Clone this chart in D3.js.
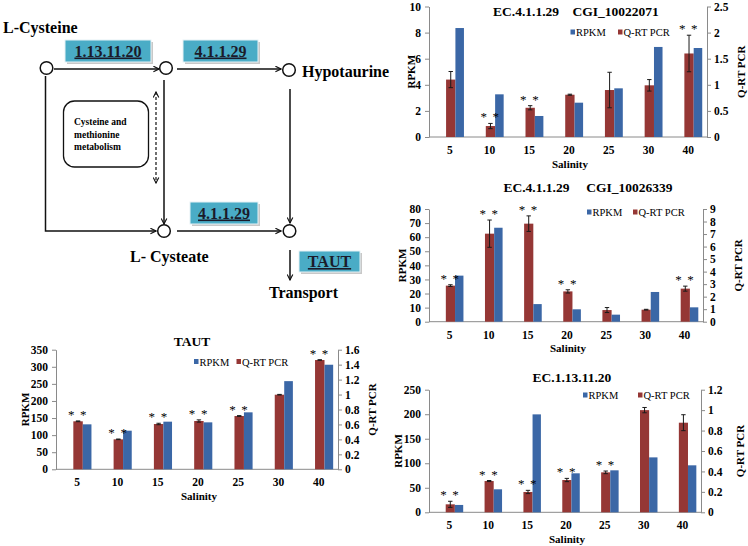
<!DOCTYPE html>
<html>
<head>
<meta charset="utf-8">
<script src="https://d3js.org/d3.v7.min.js"></script>
<style>
  body { margin: 0; background: #fff; }
  svg text { font-family: "Liberation Serif", "Tinos", "DejaVu Serif", "Noto Serif", "Times New Roman", serif !important; }
</style>
</head>
<body>
<script>
// salinity groups shared by all four charts
var salinity = ["5", "10", "15", "20", "25", "30", "40"];

// EC.4.1.1.29  CGI_10022071
var rpkmA = [8.35, 3.27, 1.61, 2.63, 3.73, 6.9, 6.82];
var pcrA  = [1.10, 0.21, 0.56, 0.81, 0.90, 0.99, 1.60];
var errA  = [0.155, 0.05, 0.04, 0.01, 0.34, 0.11, 0.35];
var sigA  = [0, 1, 1, 0, 0, 0, 1];

// EC.4.1.1.29  CGI_10026339
var rpkmB = [32.7, 66.7, 12.5, 8.8, 5.0, 21.1, 10.2];
var pcrB  = [2.88, 7.03, 7.83, 2.42, 0.93, 0.96, 2.64];
var errB  = [0.07, 1.09, 0.62, 0.13, 0.2, 0.03, 0.2];
var sigB  = [1, 1, 1, 1, 0, 0, 1];

// EC.1.13.11.20
var rpkmC = [15, 46.9, 199.7, 79.5, 85.6, 112, 95.8];
var pcrC  = [0.078, 0.306, 0.199, 0.316, 0.391, 1.0, 0.877];
var errC  = [0.03, 0.005, 0.016, 0.016, 0.013, 0.026, 0.078];
var sigC  = [1, 1, 1, 1, 1, 0, 0];

// TAUT
var rpkmD = [131.6, 113, 139.4, 137.4, 166.7, 258, 306];
var pcrD  = [0.642, 0.401, 0.606, 0.646, 0.713, 0.998, 1.462];
var errD  = [0.005, 0.004, 0.01, 0.015, 0.005, 0.004, 0.004];
var sigD  = [1, 1, 1, 1, 1, 0, 1];

var blue = "#3b67a6", red = "#953735", teal = "#4aacc6", axisGray = "#8a8a8a";
var serif = "'Liberation Serif', 'Tinos', 'DejaVu Serif', 'Noto Serif', serif";
var gap = "\u00a0\u00a0\u00a0\u00a0";

var svg = d3.select("body").append("svg")
    .attr("width", 748).attr("height", 546)
    .attr("font-family", serif);
svg.append("rect").attr("width", 748).attr("height", 546).attr("fill", "#fff");

/* ---------- pathway diagram ---------- */
var defs = svg.append("defs");
defs.append("marker").attr("id", "arr")
    .attr("viewBox", "0 0 10 10").attr("refX", 9).attr("refY", 5)
    .attr("markerWidth", 7).attr("markerHeight", 7).attr("orient", "auto-start-reverse")
    .attr("markerUnits", "userSpaceOnUse")
  .append("path").attr("d", "M1,1 L9,5 L1,9").attr("fill", "none")
    .attr("stroke", "#111").attr("stroke-width", 1.6);

var diag = svg.append("g").attr("class", "pathway");

var lines = [
  { d: "M54,69 L159,69" },
  { d: "M177,69 L281,69" },
  { d: "M45.5,76 L45.5,231 L156,231" },
  { d: "M164,80 L164,224" },
  { d: "M177,231 L281,231" },
  { d: "M290,89 L290,223" },
  { d: "M290,250 L290,280" }
];
diag.selectAll("path.flow").data(lines).enter().append("path")
    .attr("class", "flow").attr("d", function (d) { return d.d; })
    .attr("fill", "none").attr("stroke", "#111").attr("stroke-width", 1.5)
    .attr("marker-end", "url(#arr)");

diag.append("path").attr("d", "M156,92 L156,183")
    .attr("stroke", "#111").attr("stroke-width", 1.2).attr("stroke-dasharray", "3,2")
    .attr("marker-start", "url(#arr)").attr("marker-end", "url(#arr)");

var nodes = [[46.5, 68], [166, 68], [289, 70], [164, 231], [289.5, 231]];
diag.selectAll("circle").data(nodes).enter().append("circle")
    .attr("cx", function (d) { return d[0]; }).attr("cy", function (d) { return d[1]; })
    .attr("r", 6.3).attr("fill", "#fff").attr("stroke", "#111").attr("stroke-width", 1.5);

diag.append("rect").attr("x", 63.5).attr("y", 101).attr("width", 85).attr("height", 66)
    .attr("rx", 11).attr("fill", "#fff").attr("stroke", "#111").attr("stroke-width", 1.3);
diag.selectAll("text.box").data(["Cysteine and", "methionine", "metabolism"]).enter()
    .append("text").attr("class", "box")
    .attr("x", 74).attr("y", function (d, i) { return 125 + i * 12.5; })
    .style("font-size", "9.5px").style("font-weight", "bold").text(function (d) { return d; });

var labels = [
  { t: "L-Cysteine", x: 3, y: 33 },
  { t: "Hypotaurine", x: 302, y: 77 },
  { t: "L- Cysteate", x: 130, y: 262 },
  { t: "Transport", x: 269, y: 298 }
];
diag.selectAll("text.node").data(labels).enter().append("text").attr("class", "node")
    .attr("x", function (d) { return d.x; }).attr("y", function (d) { return d.y; })
    .style("font-size", "16px").style("font-weight", "bold").text(function (d) { return d.t; });

var enzymes = [
  { t: "1.13.11.20", x: 65, y: 40, w: 86, h: 22 },
  { t: "4.1.1.29", x: 183, y: 40, w: 75, h: 22 },
  { t: "4.1.1.29", x: 190, y: 202, w: 68, h: 22 },
  { t: "TAUT", x: 299, y: 251, w: 61, h: 21 }
];
var eg = diag.selectAll("g.enz").data(enzymes).enter().append("g").attr("class", "enz");
eg.append("rect").attr("x", function (d) { return d.x + 2; }).attr("y", function (d) { return d.y + 2; })
    .attr("width", function (d) { return d.w; }).attr("height", function (d) { return d.h; })
    .attr("fill", "#c8c8c8");
eg.append("rect").attr("x", function (d) { return d.x; }).attr("y", function (d) { return d.y; })
    .attr("width", function (d) { return d.w; }).attr("height", function (d) { return d.h; })
    .attr("fill", teal).attr("stroke", "#e6f2f6").attr("stroke-width", 1);
eg.append("text").attr("x", function (d) { return d.x + d.w / 2; })
    .attr("y", function (d) { return d.y + d.h / 2 + 5.5; })
    .attr("text-anchor", "middle").attr("fill", "#1b1b2a")
    .style("font-size", "16px").style("font-weight", "bold")
    .style("text-decoration", "underline").text(function (d) { return d.t; });

/* ---------- bar charts ---------- */
function fmt(v) { return String(+v.toFixed(2)); }

function drawChart(c) {
  var g = svg.append("g");
  var x = d3.scaleBand().domain(salinity).range([c.x0, c.x1]);
  var yL = d3.scaleLinear().domain([0, c.lMax]).range([c.base, c.top]);
  var yR = d3.scaleLinear().domain([0, c.rMax]).range([c.base, c.top]);
  var bw = x.bandwidth();
  var mid = function (s) { return x(s) + bw / 2; };

  var la = g.append("g").attr("transform", "translate(" + c.x0 + ",0)")
      .call(d3.axisLeft(yL).tickValues(d3.range(0, c.lMax + c.lStep / 2, c.lStep))
        .tickFormat(fmt).tickSize(4).tickSizeOuter(0).tickPadding(4));
  var ra = g.append("g").attr("transform", "translate(" + c.x1 + ",0)")
      .call(d3.axisRight(yR).tickValues(d3.range(0, c.rMax + c.rStep / 2, c.rStep))
        .tickFormat(fmt).tickSize(4).tickSizeOuter(0).tickPadding(3));
  [la, ra].forEach(function (a) {
    a.attr("font-family", serif);
    a.select(".domain").attr("stroke", axisGray);
    a.selectAll(".tick line").attr("stroke", axisGray);
    a.selectAll("text").attr("fill", "#000")
      .style("font-size", "11.5px").style("font-weight", "bold");
  });

  g.append("line").attr("x1", c.x0).attr("x2", c.x1).attr("y1", c.base).attr("y2", c.base)
      .attr("stroke", axisGray);

  g.selectAll("text.cat").data(salinity).enter().append("text").attr("class", "cat")
      .attr("x", function (d) { return mid(d) + 1; }).attr("y", c.base + 17)
      .attr("text-anchor", "middle").style("font-size", "11.5px").style("font-weight", "bold")
      .text(function (d) { return d; });

  g.append("text").attr("x", (c.x0 + c.x1) / 2 + 2).attr("y", c.base + 30.5)
      .attr("text-anchor", "middle").style("font-size", "11px").style("font-weight", "bold")
      .text("Salinity");

  g.append("text").attr("transform", "translate(" + c.lt + "," + (c.base + c.top) / 2 + ") rotate(-90)")
      .attr("text-anchor", "middle").attr("dy", "0.35em")
      .style("font-size", "11px").style("font-weight", "bold").text("RPKM");
  g.append("text").attr("transform", "translate(" + c.rt + "," + (c.base + c.top) / 2 + ") rotate(-90)")
      .attr("text-anchor", "middle").attr("dy", "0.35em")
      .style("font-size", "11px").style("font-weight", "bold").text("Q-RT PCR");

  g.append("text").attr("x", c.tx).attr("y", c.ty).attr("text-anchor", "middle")
      .style("font-size", "13.5px").style("font-weight", "bold").text(c.title);

  var rows = salinity.map(function (s, i) {
    return { s: s, rpkm: c.rpkm[i], pcr: c.pcr[i], err: c.err[i], sig: c.sig[i] };
  });

  g.selectAll("rect.pcr").data(rows).enter().append("rect").attr("class", "pcr")
      .attr("x", function (d) { return mid(d.s) - 0.07 * bw; })
      .attr("width", 0.235 * bw)
      .attr("y", function (d) { return yR(d.pcr); })
      .attr("height", function (d) { return c.base - yR(d.pcr); })
      .attr("fill", red);

  g.selectAll("rect.rpkm").data(rows).enter().append("rect").attr("class", "rpkm")
      .attr("x", function (d) { return mid(d.s) + 0.165 * bw; })
      .attr("width", 0.215 * bw)
      .attr("y", function (d) { return yL(d.rpkm); })
      .attr("height", function (d) { return c.base - yL(d.rpkm); })
      .attr("fill", blue);

  var ec = function (d) { return mid(d.s) + 0.0475 * bw; };
  var eb = g.selectAll("g.err").data(rows).enter().append("g").attr("class", "err")
      .attr("stroke", "#1a1a1a").attr("stroke-width", 1);
  eb.append("line").attr("x1", ec).attr("x2", ec)
      .attr("y1", function (d) { return yR(d.pcr + d.err); })
      .attr("y2", function (d) { return yR(d.pcr - d.err); });
  eb.append("line").attr("x1", function (d) { return ec(d) - 2.2; }).attr("x2", function (d) { return ec(d) + 2.2; })
      .attr("y1", function (d) { return yR(d.pcr + d.err); }).attr("y2", function (d) { return yR(d.pcr + d.err); });
  eb.append("line").attr("x1", function (d) { return ec(d) - 2.2; }).attr("x2", function (d) { return ec(d) + 2.2; })
      .attr("y1", function (d) { return yR(d.pcr - d.err); }).attr("y2", function (d) { return yR(d.pcr - d.err); });

  g.selectAll("text.sig").data(rows.filter(function (d) { return d.sig; })).enter()
      .append("text").attr("class", "sig")
      .attr("x", function (d) { return ec(d); })
      .attr("y", function (d) { return yR(d.pcr + d.err) - 2; })
      .attr("text-anchor", "middle").attr("fill", "#000")
      .style("font-size", "13px").style("letter-spacing", "1.5px")
      .text("*\u2009*");

  // legend
  var leg = [{ t: "RPKM", c: blue, x: c.legX }, { t: "Q-RT PCR", c: red, x: c.legX2 }];
  var lg = g.selectAll("g.leg").data(leg).enter().append("g").attr("class", "leg");
  lg.append("rect").attr("x", function (d) { return d.x; }).attr("y", c.legY - 2.5)
      .attr("width", 4.5).attr("height", 5).attr("fill", function (d) { return d.c; });
  lg.append("text").attr("x", function (d) { return d.x + 5.5; }).attr("y", c.legY + 4)
      .style("font-size", "10.5px").text(function (d) { return d.t; });
}

var charts = [
  { title: "EC.4.1.1.29" + gap + "CGI_10022071", rpkm: rpkmA, pcr: pcrA, err: errA, sig: sigA,
    x0: 429, x1: 707, top: 6.5, base: 137, lMax: 10, lStep: 2, rMax: 2.5, rStep: 0.5,
    tx: 576, ty: 15.5, lt: 411, rt: 741, legX: 570.5, legX2: 618, legY: 32 },
  { title: "EC.4.1.1.29" + gap + "\u00a0CGI_10026339", rpkm: rpkmB, pcr: pcrB, err: errB, sig: sigB,
    x0: 429, x1: 703, top: 209, base: 321.7, lMax: 80, lStep: 10, rMax: 9, rStep: 1,
    tx: 588, ty: 191.5, lt: 402, rt: 738, legX: 587, legX2: 633, legY: 212 },
  { title: "EC.1.13.11.20", rpkm: rpkmC, pcr: pcrC, err: errC, sig: sigC,
    x0: 429, x1: 701, top: 389.7, base: 512.3, lMax: 250, lStep: 50, rMax: 1.2, rStep: 0.2,
    tx: 572, ty: 381.5, lt: 398, rt: 740, legX: 583, legX2: 638, legY: 395 },
  { title: "TAUT", rpkm: rpkmD, pcr: pcrD, err: errD, sig: sigD,
    x0: 56, x1: 338, top: 349.7, base: 469.3, lMax: 350, lStep: 50, rMax: 1.6, rStep: 0.2,
    tx: 192, ty: 345.5, lt: 25, rt: 372, legX: 194, legX2: 236.5, legY: 361.5 }
];
charts.forEach(drawChart);
</script>
</body>
</html>
